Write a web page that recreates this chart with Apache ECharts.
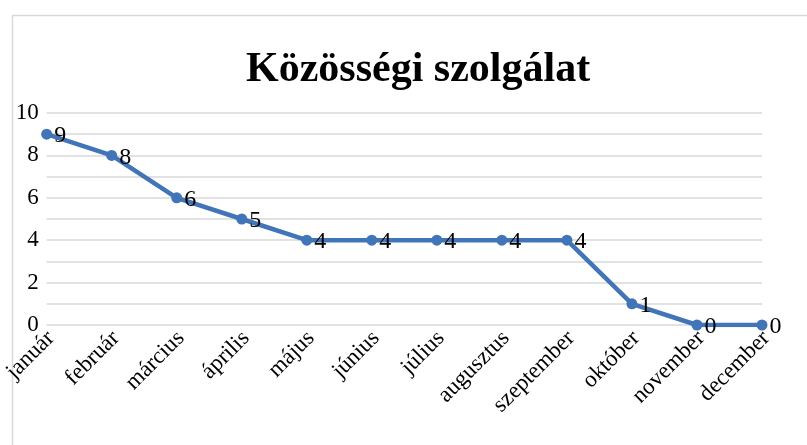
<!DOCTYPE html>
<html>
<head>
<meta charset="utf-8">
<script src="https://cdn.jsdelivr.net/npm/echarts@6/dist/echarts.min.js"></script>
<style>html,body{margin:0;padding:0;background:#fff}#c{width:807px;height:445px}</style>
</head>
<body>
<div id="c"></div>
<script>
var titleText = 'Közösségi szolgálat';
var categories = ['január','február','március','április','május','június','július','augusztus','szeptember','október','november','december'];
var values = [9, 8, 6, 5, 4, 4, 4, 4, 4, 1, 0, 0];
var yMin = 0, yMax = 10;

var font = '"Liberation Serif","Times New Roman",serif';
var chart = echarts.init(document.getElementById('c'), null, {renderer:'canvas'});
chart.setOption({
  animation: false,
  backgroundColor: '#fff',
  graphic: [{
    type: 'rect', left: 10, top: 13,
    shape: {width: 900, height: 500},
    style: {fill: 'none', stroke: '#d9d9d9', lineWidth: 1.5}
  }],
  title: {
    text: titleText, left: 241, top: 44,
    textStyle: {fontFamily: font, fontSize: 42, fontWeight: 'bold', color: '#000'}
  },
  grid: {left: 45, right: 45, top: 113, bottom: 120, containLabel: false},
  xAxis: {
    type: 'category', data: categories, boundaryGap: false,
    axisLine: {show: false}, axisTick: {show: false},
    axisLabel: {rotate: 45, margin: 14, padding: [0, -6, 0, 0], fontFamily: font, fontSize: 23, color: '#000', interval: 0}
  },
  yAxis: {
    type: 'value', min: yMin, max: yMax, interval: 1,
    axisLine: {show: false}, axisTick: {show: false},
    axisLabel: {margin: 8, fontFamily: font, fontSize: 23, color: '#000',
      formatter: function(v){ return v % 2 === 0 ? String(v) : ''; }},
    splitLine: {lineStyle: {color: '#d9d9d9', width: 1.5}}
  },
  series: [{
    type: 'line', data: values,
    symbol: 'circle', symbolSize: 11,
    lineStyle: {color: '#4175b8', width: 4.5},
    itemStyle: {color: '#4175b8'},
    label: {show: true, position: 'right', distance: 2, fontFamily: font, fontSize: 24, color: '#000', offset: [0, 2]}
  }]
});
</script>
</body>
</html>
